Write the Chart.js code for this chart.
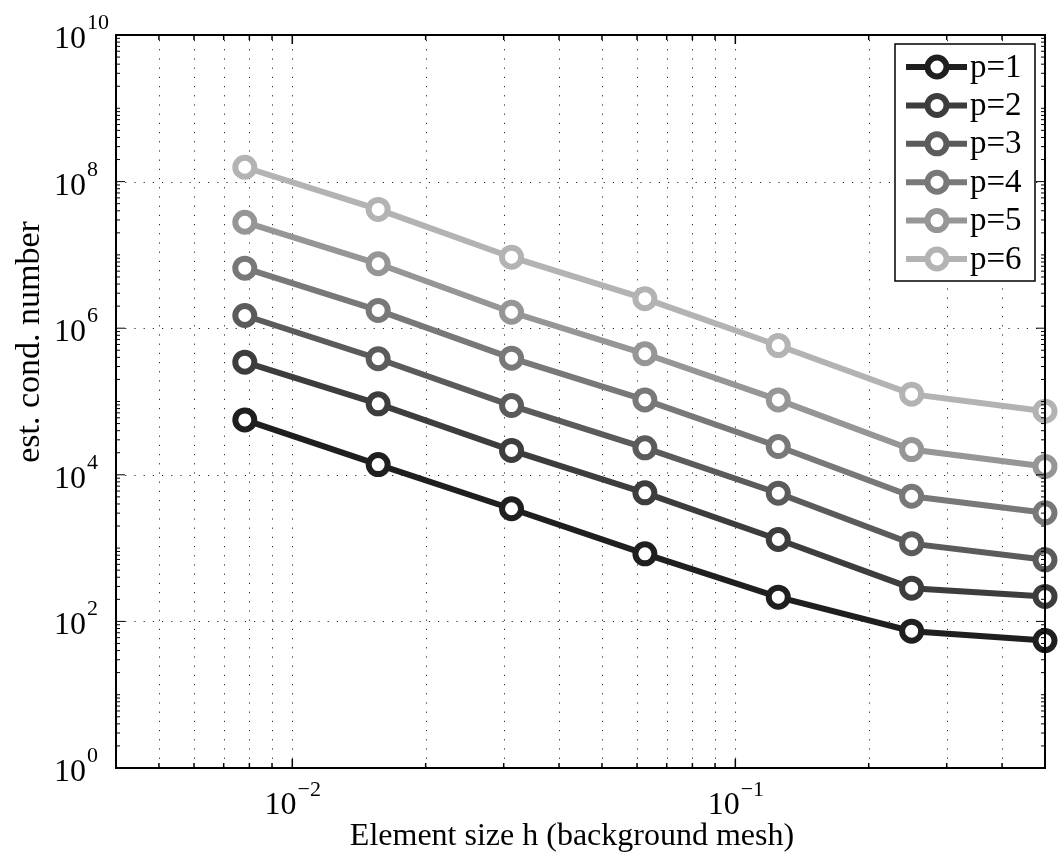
<!DOCTYPE html>
<html>
<head>
<meta charset="utf-8">
<script src="https://cdn.jsdelivr.net/npm/chart.js@4/dist/chart.umd.min.js"></script>
<style>
  html, body { margin: 0; padding: 0; background: #fff; }
</style>
</head>
<body>
<canvas id="condChart" width="1063" height="859"></canvas>
<script>
// element size h of the background mesh
const elementSize = [1 / 128, 1 / 64, 1 / 32, 1 / 16, 1 / 8, 1 / 4, 1 / 2];

// estimated condition numbers, one array per polynomial degree
const condP1 = [5.6e4, 1.38e4, 3.44e3, 836, 214, 73.5, 54.8];
const condP2 = [3.44e5, 9.3e4, 2.15e4, 5.68e3, 1.31e3, 284, 219];
const condP3 = [1.49e6, 3.83e5, 8.81e4, 2.33e4, 5.61e3, 1.15e3, 692];
const condP4 = [6.59e6, 1.75e6, 3.9e5, 1.05e5, 2.43e4, 5.1e3, 3.03e3];
const condP5 = [2.79e7, 7.57e6, 1.65e6, 4.48e5, 1.05e5, 2.21e4, 1.3e4];
const condP6 = [1.57e8, 4.17e7, 9.3e6, 2.53e6, 5.8e5, 1.26e5, 7.38e4];

const seriesLabels = ["p=1", "p=2", "p=3", "p=4", "p=5", "p=6"];
const seriesColors = ["#1f1f1f", "#3d3d3d", "#5b5b5b", "#787878", "#969696", "#b3b3b3"];
const seriesValues = [condP1, condP2, condP3, condP4, condP5, condP6];

// axis ticks
const xRange = [0.004, 0.5];
const xMajorTicks = [0.01, 0.1];
const yRange = [1, 1e10];
const yMajorTicks = [1, 1e2, 1e4, 1e6, 1e8, 1e10];

const xTitle = "Element size h (background mesh)";
const yTitle = "est. cond. number";

const serif = "'Liberation Serif', 'DejaVu Serif', serif";

// all m*10^k values inside a range (minor tick positions)
function logSteps(lo, hi) {
    const out = [];
    for (let k = Math.floor(Math.log10(lo)); k <= Math.ceil(Math.log10(hi)); k++) {
        for (let m = 1; m <= 9; m++) {
            const v = m * Math.pow(10, k);
            if (v >= lo * 0.999 && v <= hi * 1.001) out.push(v);
        }
    }
    return out;
}

function expText(v) {
    const e = Math.round(Math.log10(v));
    return (e < 0 ? "\u2212" : "") + Math.abs(e);
}

// matlab-like axes: dotted grid, box, inner ticks, power labels, titles, legend
const matlabAxes = {
    id: "matlabAxes",
    beforeDatasetsDraw(chart) {
        const { ctx, chartArea: a, scales } = chart;
        ctx.save();
        ctx.strokeStyle = "#2a2a2a";
        ctx.lineWidth = 1;
        ctx.setLineDash([1.2, 8]);
        logSteps(xRange[0], xRange[1]).forEach(v => {
            const px = Math.round(scales.x.getPixelForValue(v)) + 0.5;
            if (px <= a.left + 1 || px >= a.right - 1) return;
            ctx.beginPath();
            ctx.moveTo(px, a.bottom);
            ctx.lineTo(px, a.top);
            ctx.stroke();
        });
        yMajorTicks.forEach(v => {
            const py = Math.round(scales.y.getPixelForValue(v)) + 0.5;
            if (py <= a.top + 1 || py >= a.bottom - 1) return;
            ctx.beginPath();
            ctx.moveTo(a.left, py);
            ctx.lineTo(a.right, py);
            ctx.stroke();
        });
        ctx.restore();
    },
    afterDraw(chart) {
        const { ctx, chartArea: a, scales } = chart;
        ctx.save();
        ctx.setLineDash([]);
        ctx.strokeStyle = "#000";
        ctx.lineWidth = 1.5;

        // ticks on all four sides, pointing inward
        logSteps(xRange[0], xRange[1]).forEach(v => {
            const px = scales.x.getPixelForValue(v);
            const len = xMajorTicks.includes(v) ? 9 : 5;
            ctx.beginPath();
            ctx.moveTo(px, a.bottom); ctx.lineTo(px, a.bottom - len);
            ctx.moveTo(px, a.top); ctx.lineTo(px, a.top + len);
            ctx.stroke();
        });
        ctx.lineWidth = 1;
        logSteps(yRange[0], yRange[1]).forEach(v => {
            const py = scales.y.getPixelForValue(v);
            const len = yMajorTicks.includes(v) ? 9 : 4;
            ctx.beginPath();
            ctx.moveTo(a.left, py); ctx.lineTo(a.left + len, py);
            ctx.moveTo(a.right, py); ctx.lineTo(a.right - len, py);
            ctx.stroke();
        });

        ctx.lineWidth = 2;
        ctx.strokeRect(a.left, a.top, a.right - a.left, a.bottom - a.top);

        // tick labels as 10^k
        ctx.fillStyle = "#000";
        ctx.textBaseline = "alphabetic";
        const baseFont = "32px " + serif;
        const supFont = "22px " + serif;
        xMajorTicks.forEach(v => {
            const px = scales.x.getPixelForValue(v);
            ctx.font = baseFont;
            const w1 = ctx.measureText("10").width;
            ctx.font = supFont;
            const w2 = ctx.measureText(expText(v)).width;
            const x0 = px - (w1 + w2) / 2;
            ctx.textAlign = "left";
            ctx.font = baseFont;
            ctx.fillText("10", x0, a.bottom + 46);
            ctx.font = supFont;
            ctx.fillText(expText(v), x0 + w1 + 1, a.bottom + 28);
        });
        yMajorTicks.forEach(v => {
            const py = scales.y.getPixelForValue(v);
            ctx.textAlign = "right";
            ctx.font = baseFont;
            ctx.fillText("10", a.left - 30, py + 13);
            ctx.textAlign = "left";
            ctx.font = supFont;
            ctx.fillText(expText(v), a.left - 29, py - 6);
        });

        // axis titles
        ctx.font = "32px " + serif;
        ctx.textAlign = "center";
        ctx.textBaseline = "alphabetic";
        ctx.fillText(xTitle, 572, a.bottom + 77);
        ctx.save();
        ctx.font = "34px " + serif;
        ctx.translate(30, 342);
        ctx.rotate(-Math.PI / 2);
        ctx.textBaseline = "middle";
        ctx.fillText(yTitle, 0, 0);
        ctx.restore();

        // legend
        const lw = 140, lh = 237;
        const lx = a.right - 10 - lw, ly = a.top + 9;
        ctx.fillStyle = "#fff";
        ctx.fillRect(lx, ly, lw, lh);
        ctx.strokeStyle = "#000";
        ctx.lineWidth = 1.5;
        ctx.strokeRect(lx, ly, lw, lh);
        chart.data.datasets.forEach((ds, i) => {
            const cy = ly + 23 + i * 38.4;
            ctx.strokeStyle = ds.borderColor;
            ctx.lineWidth = 6;
            ctx.beginPath();
            ctx.moveTo(lx + 11, cy);
            ctx.lineTo(lx + 72, cy);
            ctx.stroke();
            ctx.beginPath();
            ctx.arc(lx + 42, cy, 9.5, 0, Math.PI * 2);
            ctx.fillStyle = "#fff";
            ctx.fill();
            ctx.stroke();
            ctx.fillStyle = "#000";
            ctx.font = "33px " + serif;
            ctx.textAlign = "left";
            ctx.textBaseline = "middle";
            ctx.fillText(ds.label, lx + 75, cy + 1);
        });
        ctx.restore();
    }
};

const datasets = seriesValues.map((vals, i) => ({
    label: seriesLabels[i],
    data: elementSize.map((h, j) => ({ x: h, y: vals[j] })),
    borderColor: seriesColors[i],
    backgroundColor: "#fff",
    borderWidth: 6,
    pointRadius: 9.5,
    pointHoverRadius: 9.5,
    pointBorderWidth: 6,
    pointBackgroundColor: "#fff",
    pointBorderColor: seriesColors[i],
    tension: 0,
    clip: false
}));

new Chart(document.getElementById("condChart"), {
    type: "line",
    data: { datasets: datasets },
    options: {
        responsive: false,
        animation: false,
        layout: { padding: { top: 35, right: 18, left: 0, bottom: 0 } },
        plugins: {
            legend: { display: false },
            tooltip: { enabled: false }
        },
        scales: {
            x: {
                type: "logarithmic",
                min: xRange[0],
                max: xRange[1],
                grid: { display: false },
                border: { display: false },
                ticks: { display: false },
                afterFit: s => { s.height = 91; }
            },
            y: {
                type: "logarithmic",
                min: yRange[0],
                max: yRange[1],
                grid: { display: false },
                border: { display: false },
                ticks: { display: false },
                afterFit: s => { s.width = 116; }
            }
        }
    },
    plugins: [matlabAxes]
});
</script>
</body>
</html>
